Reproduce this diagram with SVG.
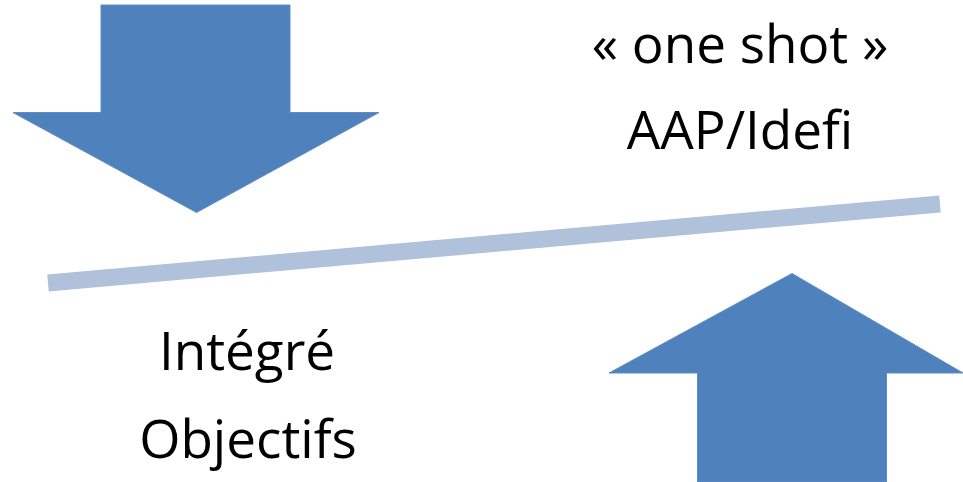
<svg xmlns="http://www.w3.org/2000/svg" width="963" height="482" viewBox="0 0 963 482">
<style>
.arrow{fill:#4F81BD;stroke:#5F8DC4;stroke-width:1}
.t{font-family:"Open Sans","Liberation Sans",sans-serif;font-size:53px;fill:#000;text-anchor:middle}
</style>
<rect width="963" height="482" fill="#fff"/>
<g id="connectors">
<line x1="48" y1="283" x2="940" y2="204" stroke="#B0C1DC" stroke-width="17" stroke-linecap="butt"/>
</g>
<g id="arrow-down">
<polygon class="arrow" points="101,5 290,5 290,112.5 379,112.5 196.5,212.5 13,112.5 101,112.5"/>
</g>
<g id="arrow-up">
<polygon class="arrow" points="792,273.5 963,373 886.5,373 886.5,482 697.5,482 697.5,373 609,373"/>
</g>
<g id="label-oneshot">
<text class="t" x="740" y="63">« one shot »</text>
<text class="t" x="740" y="149">AAP/Idefi</text>
</g>
<g id="label-integre">
<text class="t" x="247" y="370">Intégré</text>
<text class="t" x="248" y="458">Objectifs</text>
</g>
</svg>
